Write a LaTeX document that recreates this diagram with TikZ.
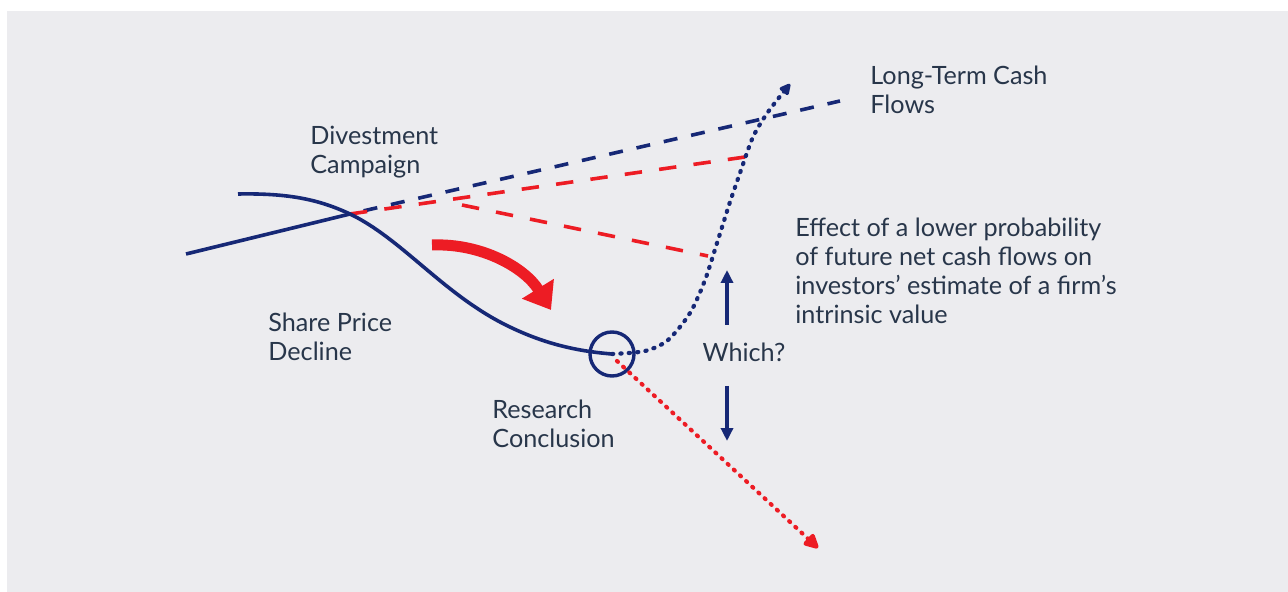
\documentclass[tikz,border=0pt]{standalone}
\usepackage{xcolor}
\usepackage{fontspec}
\setmainfont{Lato}
\usepackage{tikz}
\usetikzlibrary{arrows.meta}
\tikzset{>=stealth}
\definecolor{navy}{RGB}{22,40,118}
\definecolor{cred}{RGB}{237,28,36}
\definecolor{ink}{RGB}{40,54,74}
\definecolor{bg}{RGB}{236,236,239}

\begin{document}
\begin{tikzpicture}[x=0.5pt, y=-0.5pt,
        lbl/.style={text=ink, align=left, anchor=north west, inner sep=0pt,
            font=\fontsize{12.6}{14.5}\selectfont},
        navyline/.style={navy, line width=1.8pt},
        navydash/.style={navy, line width=1.8pt, dash pattern=on 7pt off 7pt},
        reddash/.style={cred, line width=1.8pt, dash pattern=on 8.7pt off 8.65pt},
        dotline/.style={line width=2.1pt, line cap=round, dash pattern=on 0.6pt off 3.6pt}]
        % Background
        \useasboundingbox (0,0) rectangle (1288,592);
        \fill[bg] (7,11) rectangle (1288,592);

        % Points
        \coordinate (start) at (186,254);
        \coordinate (cross) at (350,214);
        \coordinate (ltcf) at (840,101);
        \coordinate (redtop) at (745,157);
        \coordinate (redlow) at (462,205);
        \coordinate (redend) at (708,256);
        \node[circle, draw=navy, line width=1.7pt, minimum size=22pt, inner sep=0pt] (rc) at (612,354) {};

        % Lines
        \draw [navyline] (start) -- (cross);
        \draw [navydash, dash phase=7pt] (cross) -- (ltcf);
        \draw [reddash] (cross) -- (redtop);
        \draw [reddash] (redlow) -- (redend);
        \draw [navyline] (238,194) .. controls (290,193) and (320,200) .. (cross)
            .. controls (400,238) and (440,290) .. (500,322)
            .. controls (540,343) and (575,351) .. (rc.center);
        \draw [dotline, navy, -{Triangle[width=6pt, length=6.5pt, round=false]}] plot[smooth] coordinates {(rc.center) (645,351) (668,340) (690,313) (705,280) (717,243) (729,205) (741,170) (753,137) (768,112) (790,84)};
        \coordinate (rstart) at (617,361);
        \coordinate (rtip) at (818,548);
        \draw [dotline, cred, -{Triangle[width=8pt, length=8.5pt, round=false]}] (rstart) -- (rtip);

        % Big arrow
        \draw [cred, line width=5.5pt, -{Triangle[width=18pt, length=12.5pt]}] (432,245) .. controls (482,243) and (525,268) .. (551,310);

        % Labels
        \node[lbl] (dc) at (310,126) {Divestment\\Campaign};
        \node[lbl] (lt) at (870,66) {Long-Term Cash\\Flows};
        \node[lbl] (eff) at (795,218) {Effect of a lower probability\\of future net cash flows on\\investors’ estimate of a firm’s\\intrinsic value};
        \node[lbl] (spd) at (268,313) {Share Price\\Decline};
        \node[lbl] (rcl) at (492,400) {Research\\Conclusion};
        \node[text=ink, inner sep=0pt, font=\fontsize{12.6}{14.5}\selectfont] (which) at (744,352) {Which?};

        % Which arrows
        \coordinate (upbase) at (727,325);
        \coordinate (uptip) at (727,270);
        \coordinate (dnbase) at (727,386);
        \coordinate (dntip) at (727,441);
        \draw [navyline, -{Triangle[width=6pt, length=6.5pt]}] (upbase) -- (uptip);
        \draw [navyline, -{Triangle[width=6pt, length=6.5pt]}] (dnbase) -- (dntip);
      \end{tikzpicture}
\end{document}
